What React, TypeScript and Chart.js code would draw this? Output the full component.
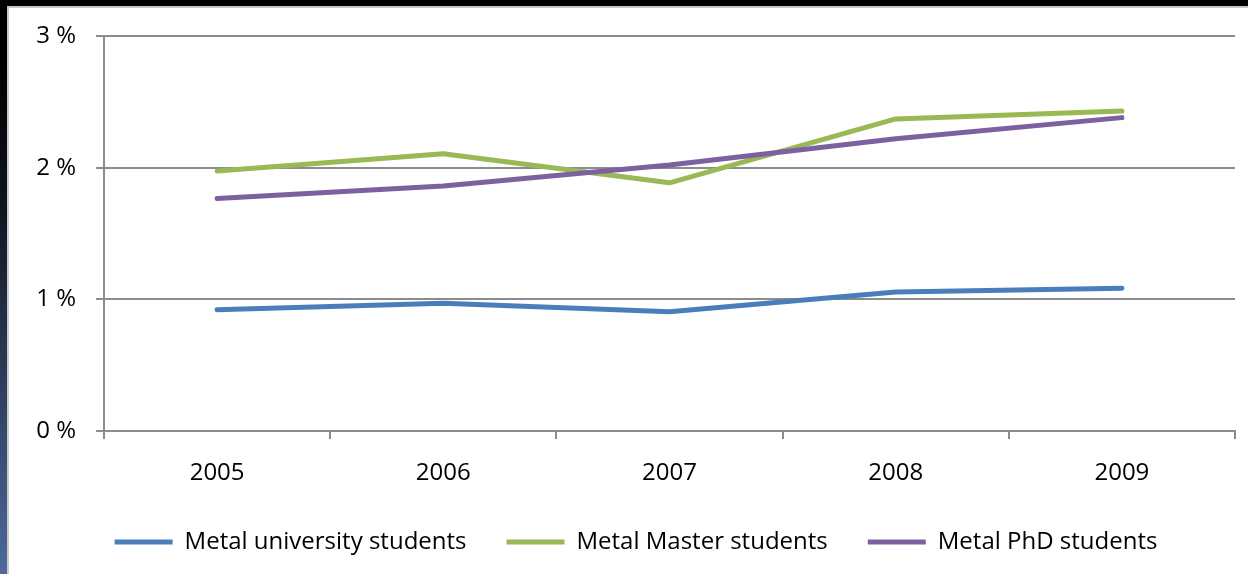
import React, { useEffect, useRef } from "react";
import { Chart, registerables } from "chart.js";

Chart.register(...registerables);

const categories = ["2005", "2006", "2007", "2008", "2009"];
const universityStudents = [0.92, 0.97, 0.905, 1.055, 1.085];
const masterStudents = [1.975, 2.105, 1.885, 2.37, 2.43];
const phdStudents = [1.765, 1.86, 2.02, 2.22, 2.38];
const seriesNames = ["Metal university students", "Metal Master students", "Metal PhD students"];
const seriesColors = ["#4a7ebb", "#98b954", "#7d60a0"];
const yTicks = [0, 1, 2, 3];

const FONT = "'Open Sans', 'Noto Sans', sans-serif";

export default function App() {
  const ref = useRef<HTMLCanvasElement | null>(null);

  useEffect(() => {
    if (!ref.current) return;
    const values = [universityStudents, masterStudents, phdStudents];
    const orders = [2, 1, 0];
    const chart = new Chart(ref.current, {
      type: "line",
      data: {
        labels: categories,
        datasets: values.map((v, i) => ({
          label: seriesNames[i],
          data: v,
          borderColor: seriesColors[i],
          backgroundColor: seriesColors[i],
          borderWidth: 5,
          pointRadius: 0,
          tension: 0,
          borderCapStyle: "round" as const,
          borderJoinStyle: "round" as const,
          order: orders[i],
        })),
      },
      options: {
        animation: false,
        responsive: false,
        maintainAspectRatio: false,
        layout: { padding: { top: 28, right: 13, bottom: 12, left: 28 } },
        plugins: {
          tooltip: { enabled: false },
          legend: {
            position: "bottom",
            maxHeight: 72,
            labels: {
              sort: (a: any, b: any) => a.datasetIndex - b.datasetIndex,
              boxWidth: 58,
              boxHeight: 5,
              padding: 40,
              color: "#000",
              font: { family: FONT, size: 24 },
              generateLabels: (c: any) =>
                c.data.datasets.map((d: any, i: number) => ({
                  text: d.label,
                  fillStyle: d.borderColor,
                  strokeStyle: d.borderColor,
                  lineWidth: 0,
                  datasetIndex: i,
                  hidden: false,
                  fontColor: "#000",
                })),
            },
          },
        },
        scales: {
          x: {
            offset: true,
            grid: {
              offset: true,
              drawOnChartArea: false,
              drawTicks: true,
              tickLength: 8,
              color: "#8c8c8c",
              lineWidth: 2,
            },
            border: { display: true, color: "#8c8c8c", width: 2 },
            ticks: {
              color: "#000",
              font: { family: FONT, size: 24 },
              padding: 20,
              maxRotation: 0,
              autoSkip: false,
            },
            afterFit: (s: any) => {
              s.height = 59;
            },
          },
          y: {
            min: 0,
            max: 3,
            afterBuildTicks: (s: any) => {
              s.ticks = yTicks.map((v) => ({ value: v }));
            },
            grid: {
              color: "#8c8c8c",
              lineWidth: 2,
              drawTicks: true,
              tickLength: 8,
            },
            border: { display: true, color: "#8c8c8c", width: 2 },
            ticks: {
              color: "#000",
              font: { family: FONT, size: 24 },
              padding: 20,
              callback: (v: any) => `${v} %`,
            },
            afterFit: (s: any) => {
              s.width = 67;
              s.paddingTop = 0;
              s.paddingBottom = 0;
            },
          },
        },
      },
    });
    return () => chart.destroy();
  }, []);

  return (
    <div
      style={{
        position: "fixed",
        left: 0,
        top: 0,
        width: 1248,
        height: 574,
        background: "linear-gradient(to bottom, #000 0px, #000 60px, #0f141d 200px, #4d6a9c 574px)",
        overflow: "hidden",
      }}
    >
      <div
        style={{
          position: "absolute",
          left: 7,
          top: 6,
          width: 1241,
          height: 568,
          background: "#c8c8c8",
        }}
      />
      <div
        style={{
          position: "absolute",
          left: 9,
          top: 8,
          width: 1239,
          height: 566,
          background: "#fff",
        }}
      >
        <canvas ref={ref} width={1239} height={566} style={{ display: "block" }} />
      </div>
    </div>
  );
}
